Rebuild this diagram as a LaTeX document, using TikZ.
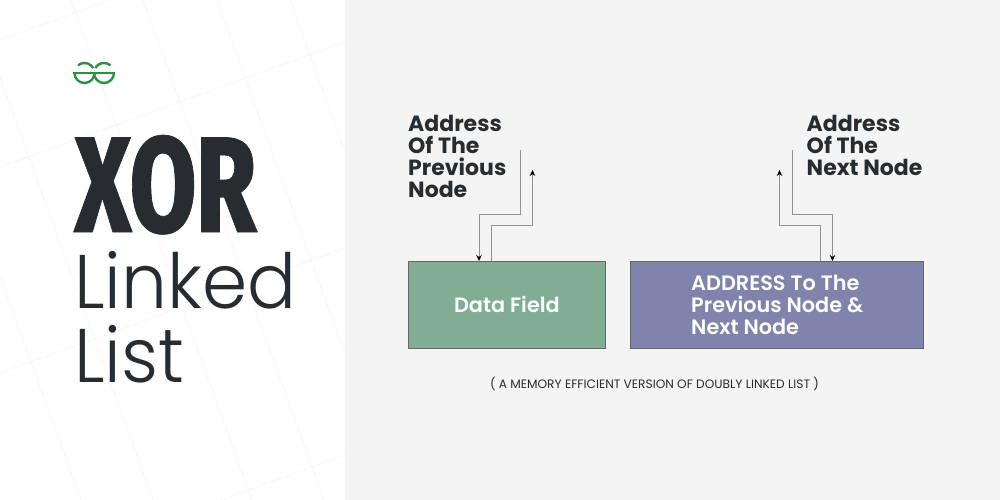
\documentclass[tikz,border=0pt]{standalone}
\usepackage{fontspec}
\setmainfont{Poppins}
\newfontfamily\popmed{Poppins SemiBold}
\newfontfamily\poplight[FakeStretch=0.955]{Poppins Light}
\newfontfamily\condbold[FakeStretch=0.71,FakeBold=0.5]{Fira Sans ExtraBold}
\usetikzlibrary{arrows.meta}
\definecolor{ink}{HTML}{272C30}
\definecolor{panel}{HTML}{F4F4F4}
\definecolor{gfg}{HTML}{2F8D46}
\definecolor{greenbox}{HTML}{81AD94}
\definecolor{bluebox}{HTML}{8084AC}
\definecolor{gridl}{HTML}{F8F8F8}
\definecolor{wire}{HTML}{929292}
\tikzset{
  x=1pt,y=-1pt,
  fieldbox/.style={draw=black!60,line width=0.8pt,inner sep=0pt,anchor=north west},
  fieldtext/.style={white,font=\fontsize{20.8}{22}\selectfont\popmed,align=left,inner sep=0pt},
  heading/.style={ink,font=\fontsize{22}{22}\selectfont\bfseries,align=left,anchor=north west,inner sep=0pt},
  wirearrow/.style={wire,line width=1pt,-{Stealth[black,length=6pt,width=5.5pt]}},
  gridline/.style={gridl,line width=1pt},
  logoarc/.style={gfg,line width=2.4pt}
}
\begin{document}
\begin{tikzpicture}
\useasboundingbox (0,0) rectangle (1000,500);
\fill[white] (0,0) rectangle (344.5,500);
\fill[panel] (344.5,0) rectangle (1000,500);
% faint background grid
\begin{scope}
\clip (0,0) rectangle (344,500);
\foreach \a in {-100,-28,71,143,217,290,362}
  \draw[gridline] (\a,0) -- (\a+181,500);
\foreach \b in {40,167,373,580}
  \draw[gridline] (0,\b) -- (345,\b-125);
\end{scope}
% logo
\draw[logoarc] (73,73) -- (115,73);
\draw[logoarc] (84.5,73) ++(-130:10) arc[start angle=-130,end angle=-30,radius=10];
\draw[logoarc] (74.5,73) arc[start angle=180,end angle=0,x radius=10,y radius=10];
\draw[logoarc] (104,73) ++(-150:10) arc[start angle=-150,end angle=-50,radius=10];
\draw[logoarc] (94,73) arc[start angle=180,end angle=0,x radius=10,y radius=10];
% titles
\node[ink,anchor=base west,inner sep=0pt] (xor) at (74,232) {\fontsize{136}{136}\selectfont\condbold XOR};
\node[ink,anchor=base west,inner sep=0pt] (linked) at (74,308) {\fontsize{76}{76}\selectfont\poplight Linked};
\node[ink,anchor=base west,inner sep=0pt] (list) at (74,382) {\fontsize{76}{76}\selectfont\poplight List};
% boxes
\node[fieldbox,fill=greenbox,minimum width=197pt,minimum height=87pt] (data) at (408,261) {};
\node[fieldbox,fill=bluebox,minimum width=293pt,minimum height=87pt] (addr) at (630,261) {};
\node[fieldtext] (datat) at (data.center) {Data Field};
\node[fieldtext,anchor=west] (addrt) at (691,305) {ADDRESS To The\\Previous Node \&\\Next Node};
% headings
\node[heading] (prev) at (408,115) {Address\\Of The\\Previous\\Node};
\node[heading] (next) at (806.5,115) {Address\\Of The\\Next Node};
\node[ink,font=\fontsize{12.2}{14}\selectfont,inner sep=0pt] (cap) at (654.5,384) {( A MEMORY EFFICIENT VERSION OF DOUBLY LINKED LIST )};
% connectors
\coordinate (ls) at (520,150);
\coordinate (lt) at (532.5,170);
\coordinate (rs) at (792,150);
\coordinate (rt) at (779.5,170);
\coordinate (ld) at (479,261);
\coordinate (lu) at (491.5,261);
\coordinate (ru) at (820.5,261);
\coordinate (rd) at (832.5,261);
\draw[wirearrow] (ls) -- (520,214) -- (479,214) -- (ld);
\draw[wirearrow] (lu) -- (491.5,225) -- (532.5,225) -- (lt);
\draw[wirearrow] (ru) -- (820.5,225) -- (779.5,225) -- (rt);
\draw[wirearrow] (rs) -- (792,214) -- (832.5,214) -- (rd);
\end{tikzpicture}
\end{document}
